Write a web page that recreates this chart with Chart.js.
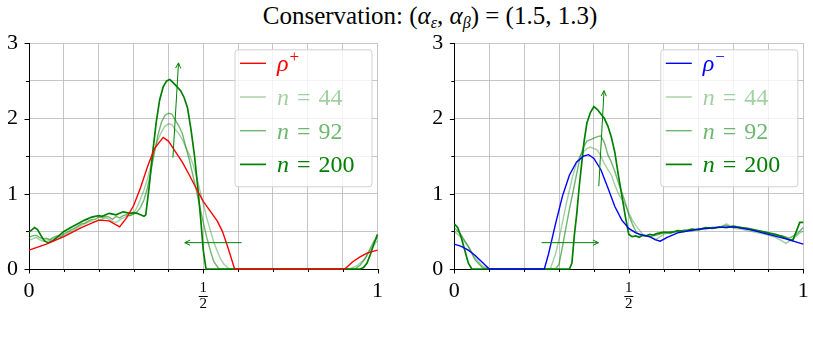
<!DOCTYPE html>
<html>
<head>
<meta charset="utf-8">
<script src="https://cdn.jsdelivr.net/npm/chart.js@4.4.1/dist/chart.umd.min.js"></script>
<style>
  body { margin: 0; background: #fff; }
  #page { position: relative; width: 813px; height: 347px; overflow: hidden; font-family: "Liberation Serif", serif; }
  #title { position: absolute; top: 2px; left: 0; width: 860px; text-align: center; font-size: 25px; color: #000; white-space: nowrap; }
  #title sub { font-size: 16px; vertical-align: -4px; }
  .panel { position: absolute; top: 0; height: 347px; }
  #leftBox { left: 0; width: 410px; }
  #rightBox { left: 410px; width: 403px; }
</style>
</head>
<body>
<div id="page">
  <div id="title">Conservation: (<i>α</i><sub><i>ε</i></sub>, <i>α</i><sub><i>β</i></sub>) = (1.5, 1.3)</div>
  <div class="panel" id="leftBox"><canvas id="leftChart"></canvas></div>
  <div class="panel" id="rightBox"><canvas id="rightChart"></canvas></div>
</div>
<script>
/****************
--- DATA ---
*****************/

// left panel: rho+ and the particle densities
const rhoPlusX = [0, 0.05, 0.1, 0.15, 0.2, 0.23, 0.26, 0.28, 0.3, 0.32, 0.34, 0.36, 0.385, 0.4, 0.42, 0.44, 0.46, 0.48, 0.5, 0.52, 0.54, 0.555, 0.567, 0.58, 0.59, 0.906, 0.93, 0.95, 0.97, 1];
const rhoPlusY = [0.25, 0.33, 0.43, 0.55, 0.65, 0.64, 0.56, 0.68, 0.84, 1.08, 1.36, 1.6, 1.75, 1.7, 1.56, 1.42, 1.25, 1.07, 0.9, 0.77, 0.64, 0.5, 0.34, 0.15, 0, 0, 0.1, 0.16, 0.21, 0.25];

const leftN44X = [0, 0.01, 0.02, 0.03, 0.04, 0.05, 0.06, 0.07, 0.08, 0.09, 0.1, 0.11, 0.12, 0.13, 0.14, 0.15, 0.16, 0.17, 0.18, 0.19, 0.2, 0.21, 0.22, 0.23, 0.24, 0.25, 0.26, 0.27, 0.28, 0.29, 0.3, 0.31, 0.32, 0.33, 0.34, 0.35, 0.36, 0.37, 0.38, 0.39, 0.4, 0.41, 0.42, 0.43, 0.44, 0.45, 0.46, 0.47, 0.48, 0.49, 0.5, 0.51, 0.52, 0.53, 0.54, 0.55, 0.56, 0.575, 0.92, 0.94, 0.96, 0.98, 1];
const leftN44Y = [0.38, 0.4, 0.42, 0.39, 0.37, 0.39, 0.38, 0.4, 0.42, 0.41, 0.45, 0.47, 0.5, 0.52, 0.55, 0.58, 0.6, 0.62, 0.64, 0.63, 0.65, 0.66, 0.68, 0.66, 0.63, 0.62, 0.65, 0.68, 0.7, 0.71, 0.74, 0.82, 0.93, 1.05, 1.2, 1.38, 1.58, 1.72, 1.82, 1.9, 1.93, 1.92, 1.85, 1.8, 1.72, 1.62, 1.52, 1.4, 1.25, 1.05, 0.87, 0.68, 0.52, 0.36, 0.24, 0.13, 0.06, 0, 0, 0.04, 0.12, 0.25, 0.38];

const leftN92X = [0, 0.01, 0.02, 0.03, 0.04, 0.05, 0.06, 0.07, 0.08, 0.09, 0.1, 0.11, 0.12, 0.13, 0.14, 0.15, 0.16, 0.17, 0.18, 0.19, 0.2, 0.21, 0.22, 0.23, 0.24, 0.25, 0.26, 0.27, 0.28, 0.29, 0.3, 0.31, 0.32, 0.33, 0.34, 0.35, 0.36, 0.37, 0.38, 0.39, 0.4, 0.41, 0.42, 0.43, 0.44, 0.45, 0.46, 0.47, 0.48, 0.49, 0.5, 0.51, 0.52, 0.53, 0.545, 0.935, 0.95, 0.965, 0.98, 0.99, 1];
const leftN92Y = [0.42, 0.44, 0.45, 0.42, 0.4, 0.41, 0.39, 0.42, 0.44, 0.43, 0.47, 0.49, 0.52, 0.54, 0.57, 0.6, 0.61, 0.64, 0.66, 0.66, 0.69, 0.68, 0.7, 0.69, 0.66, 0.7, 0.68, 0.71, 0.72, 0.71, 0.73, 0.76, 0.82, 0.92, 1.08, 1.3, 1.55, 1.78, 1.95, 2.04, 2.07, 2.06, 1.98, 1.9, 1.8, 1.62, 1.45, 1.25, 1.05, 0.83, 0.62, 0.42, 0.25, 0.1, 0, 0, 0.05, 0.14, 0.28, 0.37, 0.42];

const leftN200X = [0, 0.008, 0.016, 0.025, 0.035, 0.045, 0.055, 0.07, 0.085, 0.1, 0.12, 0.14, 0.16, 0.18, 0.2, 0.21, 0.22, 0.23, 0.24, 0.25, 0.26, 0.27, 0.28, 0.29, 0.3, 0.31, 0.32, 0.33, 0.335, 0.345, 0.355, 0.365, 0.375, 0.385, 0.395, 0.404, 0.415, 0.425, 0.435, 0.445, 0.455, 0.465, 0.475, 0.485, 0.493, 0.5, 0.508, 0.95, 0.96, 0.97, 0.98, 0.99, 1];
const leftN200Y = [0.49, 0.52, 0.55, 0.52, 0.44, 0.37, 0.35, 0.38, 0.44, 0.5, 0.55, 0.6, 0.65, 0.69, 0.71, 0.7, 0.72, 0.74, 0.73, 0.72, 0.74, 0.76, 0.75, 0.74, 0.75, 0.74, 0.72, 0.7, 0.72, 1.1, 1.55, 1.95, 2.25, 2.42, 2.5, 2.52, 2.47, 2.42, 2.37, 2.28, 2.14, 1.85, 1.5, 1.05, 0.65, 0.25, 0, 0, 0.02, 0.08, 0.2, 0.34, 0.46];

// right panel: rho- and the particle densities
const rhoMinusX = [0, 0.02, 0.04, 0.06, 0.08, 0.1, 0.258, 0.27, 0.29, 0.31, 0.33, 0.35, 0.37, 0.385, 0.4, 0.42, 0.44, 0.46, 0.48, 0.5, 0.52, 0.54, 0.56, 0.575, 0.59, 0.61, 0.64, 0.7, 0.75, 0.8, 0.85, 0.9, 0.95, 1];
const rhoMinusY = [0.33, 0.3, 0.25, 0.18, 0.09, 0, 0, 0.2, 0.6, 0.97, 1.25, 1.42, 1.5, 1.52, 1.47, 1.32, 1.08, 0.83, 0.65, 0.54, 0.48, 0.45, 0.43, 0.39, 0.37, 0.42, 0.48, 0.53, 0.55, 0.56, 0.52, 0.46, 0.4, 0.33];

const rightN44X = [0, 0.02, 0.04, 0.06, 0.08, 0.1, 0.275, 0.29, 0.3, 0.31, 0.32, 0.33, 0.34, 0.35, 0.36, 0.37, 0.38, 0.39, 0.4, 0.41, 0.42, 0.43, 0.44, 0.45, 0.46, 0.47, 0.48, 0.49, 0.5, 0.51, 0.52, 0.53, 0.54, 0.56, 0.58, 0.6, 0.62, 0.64, 0.66, 0.68, 0.7, 0.72, 0.74, 0.76, 0.78, 0.8, 0.82, 0.84, 0.86, 0.88, 0.9, 0.92, 0.94, 0.95, 0.97, 0.99, 1];
const rightN44Y = [0.5, 0.42, 0.3, 0.15, 0.04, 0, 0, 0.2, 0.4, 0.62, 0.85, 1.05, 1.25, 1.4, 1.5, 1.56, 1.6, 1.62, 1.6, 1.58, 1.5, 1.4, 1.32, 1.25, 1.12, 1.0, 0.93, 0.85, 0.75, 0.65, 0.58, 0.52, 0.46, 0.42, 0.4, 0.46, 0.49, 0.5, 0.52, 0.5, 0.54, 0.52, 0.56, 0.55, 0.6, 0.54, 0.53, 0.51, 0.49, 0.47, 0.45, 0.42, 0.37, 0.34, 0.4, 0.48, 0.5];

const rightN92X = [0, 0.02, 0.04, 0.06, 0.08, 0.09, 0.29, 0.3, 0.31, 0.32, 0.33, 0.34, 0.35, 0.36, 0.37, 0.38, 0.39, 0.4, 0.41, 0.42, 0.43, 0.44, 0.45, 0.46, 0.47, 0.48, 0.49, 0.5, 0.51, 0.52, 0.53, 0.54, 0.56, 0.58, 0.6, 0.62, 0.64, 0.66, 0.68, 0.7, 0.72, 0.74, 0.76, 0.78, 0.8, 0.82, 0.84, 0.86, 0.88, 0.9, 0.92, 0.94, 0.96, 0.98, 1];
const rightN92Y = [0.55, 0.45, 0.3, 0.12, 0.02, 0, 0, 0.06, 0.3, 0.55, 0.8, 1.02, 1.25, 1.48, 1.62, 1.7, 1.72, 1.74, 1.76, 1.77, 1.68, 1.52, 1.42, 1.3, 1.15, 1.02, 0.88, 0.72, 0.6, 0.5, 0.45, 0.44, 0.43, 0.45, 0.48, 0.5, 0.49, 0.52, 0.51, 0.53, 0.55, 0.54, 0.56, 0.58, 0.55, 0.56, 0.53, 0.51, 0.5, 0.47, 0.45, 0.44, 0.41, 0.46, 0.55];

const rightN200X = [0, 0.01, 0.02, 0.03, 0.04, 0.05, 0.33, 0.337, 0.344, 0.351, 0.358, 0.365, 0.372, 0.38, 0.39, 0.4, 0.41, 0.42, 0.43, 0.44, 0.45, 0.46, 0.47, 0.48, 0.49, 0.5, 0.51, 0.52, 0.53, 0.54, 0.55, 0.56, 0.57, 0.58, 0.6, 0.62, 0.64, 0.66, 0.68, 0.7, 0.72, 0.74, 0.76, 0.78, 0.8, 0.82, 0.84, 0.86, 0.88, 0.9, 0.92, 0.94, 0.96, 0.97, 0.98, 0.99, 1];
const rightN200Y = [0.6, 0.55, 0.42, 0.25, 0.08, 0, 0, 0.08, 0.45, 0.74, 1.1, 1.4, 1.7, 1.94, 2.08, 2.16, 2.12, 2.06, 2.0, 1.9, 1.75, 1.55, 1.25, 0.98, 0.7, 0.46, 0.43, 0.44, 0.42, 0.45, 0.44, 0.46, 0.45, 0.47, 0.49, 0.48, 0.51, 0.5, 0.53, 0.52, 0.55, 0.54, 0.56, 0.55, 0.57, 0.55, 0.54, 0.52, 0.5, 0.48, 0.46, 0.43, 0.39, 0.38, 0.5, 0.62, 0.62];

// arrows [x1, y1, x2, y2] in data units
const leftArrows = [[0.413, 1.48, 0.429, 2.74], [0.61, 0.35, 0.447, 0.35]];
const rightArrows = [[0.414, 1.1, 0.429, 2.37], [0.25, 0.35, 0.413, 0.35]];

// tick labels
const yTickLabels = [0, 1, 2, 3];
const xTickLabels = ["0", "1/2", "1"];
const xTickValues = [0, 0.5, 1];

/*******************
  --- FUNCTIONS ---
********************/

const GREEN = "0, 128, 0";
const SERIF = '"Liberation Serif", serif';

const toPoints = (xs, ys) => xs.map((x, i) => ({ x: x, y: ys[i] }));

const line = (label, xs, ys, color, width) => ({
  label: label,
  data: toPoints(xs, ys),
  borderColor: color,
  borderWidth: width,
  pointRadius: 0,
  tension: 0,
  clip: 6,
});

const drawArrow = (ctx, x1, y1, x2, y2) => {
  const a = Math.atan2(y2 - y1, x2 - x1);
  const h = 6;
  ctx.beginPath();
  ctx.moveTo(x1, y1);
  ctx.lineTo(x2, y2);
  ctx.moveTo(x2 - h * Math.cos(a - 0.45), y2 - h * Math.sin(a - 0.45));
  ctx.lineTo(x2, y2);
  ctx.lineTo(x2 - h * Math.cos(a + 0.45), y2 - h * Math.sin(a + 0.45));
  ctx.stroke();
};

// legend label: italic first letter, then superscript sign or plain text
const drawLabel = (ctx, label, x, y, color) => {
  ctx.fillStyle = color;
  ctx.textBaseline = "alphabetic";
  ctx.textAlign = "left";
  ctx.font = "italic 24px " + SERIF;
  ctx.fillText(label[0], x, y);
  let cx = x + ctx.measureText(label[0]).width;
  const rest = label.slice(1);
  if (rest == "+" || rest == "−") {
    ctx.font = "17px " + SERIF;
    ctx.fillText(rest, cx + 1, y - 9);
  } else {
    const parts = rest.trim().split(" ");
    ctx.font = "24px " + SERIF;
    cx += 8;
    ctx.fillText(parts[0], cx, y);
    cx += ctx.measureText(parts[0]).width + 8;
    ctx.fillText(parts[1], cx, y);
  }
};

const decorPlugin = {
  id: "decor",
  afterDraw(chart, args, opts) {
    const ctx = chart.ctx;
    const area = chart.chartArea;
    const xs = chart.scales.x;
    const ys = chart.scales.y;
    ctx.save();

    // tick marks
    ctx.strokeStyle = "#000";
    ctx.lineWidth = 1;
    ctx.beginPath();
    for (let v = 0; v <= 10; v++) {
      const px = Math.round(xs.getPixelForValue(v / 10)) + 0.5;
      const len = v % 5 == 0 ? 4.5 : 3;
      ctx.moveTo(px, area.bottom);
      ctx.lineTo(px, area.bottom + len);
    }
    for (let v = 0; v <= 6; v++) {
      const py = Math.round(ys.getPixelForValue(v / 2)) + 0.5;
      const len = v % 2 == 0 ? 4.5 : 3;
      ctx.moveTo(area.left, py);
      ctx.lineTo(area.left - len, py);
    }
    ctx.stroke();

    // x tick labels, with 1/2 as a stacked fraction
    ctx.fillStyle = "#000";
    ctx.textAlign = "center";
    ctx.textBaseline = "alphabetic";
    xTickLabels.forEach((t, i) => {
      const px = xs.getPixelForValue(xTickValues[i]);
      if (t.includes("/")) {
        const [num, den] = t.split("/");
        ctx.font = "15px " + SERIF;
        ctx.fillText(num, px, area.bottom + 23);
        ctx.fillText(den, px, area.bottom + 39);
        ctx.fillRect(px - 4.5, area.bottom + 27, 9, 1);
      } else {
        ctx.font = "22px " + SERIF;
        ctx.fillText(t, px, area.bottom + 28);
      }
    });

    // arrows
    ctx.strokeStyle = "rgb(" + GREEN + ")";
    ctx.lineWidth = 1;
    opts.arrows.forEach((a) => {
      drawArrow(ctx, xs.getPixelForValue(a[0]), ys.getPixelForValue(a[1]), xs.getPixelForValue(a[2]), ys.getPixelForValue(a[3]));
    });

    // legend box
    const bw = 137, bh = 137;
    const bx = area.right - 5.5 - bw;
    const by = area.top + 6.5;
    ctx.fillStyle = "rgba(255,255,255,0.8)";
    ctx.strokeStyle = "#d0d0d0";
    ctx.beginPath();
    ctx.roundRect(bx, by, bw, bh, 3);
    ctx.fill();
    ctx.stroke();
    chart.data.datasets.forEach((d, i) => {
      const ry = by + 13.5 + i * 33.7;
      ctx.strokeStyle = d.borderColor;
      ctx.lineWidth = d.borderWidth;
      ctx.beginPath();
      ctx.moveTo(bx + 5, ry);
      ctx.lineTo(bx + 31, ry);
      ctx.stroke();
      drawLabel(ctx, d.label, bx + 42, ry + 8, d.borderColor);
    });
    ctx.restore();
  },
};

const makeChart = (id, datasets, padding, arrows) =>
  new Chart(document.getElementById(id).getContext("2d"), {
    type: "line",
    data: { datasets: datasets },
    plugins: [decorPlugin],
    options: {
      responsive: true,
      maintainAspectRatio: false,
      animation: false,
      layout: { padding: padding },
      plugins: { legend: { display: false }, tooltip: { enabled: false }, decor: { arrows: arrows } },
      scales: {
        x: {
          type: "linear",
          min: 0,
          max: 1,
          ticks: { display: false, stepSize: 0.1 },
          grid: { color: "#b8b8b8", lineWidth: 0.8, drawTicks: false },
          border: { color: "#000", width: 1 },
          afterFit: (s) => { s.height = 30; },
        },
        y: {
          min: 0,
          max: 3,
          ticks: {
            stepSize: 0.5,
            padding: 11,
            color: "#000",
            font: { family: SERIF, size: 22 },
            callback: (v) => (yTickLabels.includes(v) ? v : ""),
          },
          grid: { color: "#b8b8b8", lineWidth: 0.8, drawTicks: false },
          border: { color: "#000", width: 1 },
          afterFit: (s) => { s.width = 29; },
        },
      },
    },
  });

/***********************
--- CHARTS ---
************************/

makeChart(
  "leftChart",
  [
    line("ρ+", rhoPlusX, rhoPlusY, "rgb(255, 0, 0)", 1.4),
    line("n = 44", leftN44X, leftN44Y, "rgba(" + GREEN + ", 0.37)", 1.4),
    line("n = 92", leftN92X, leftN92Y, "rgba(" + GREEN + ", 0.57)", 1.4),
    line("n = 200", leftN200X, leftN200Y, "rgb(" + GREEN + ")", 1.7),
  ],
  { left: 0, right: 32.5, top: 43.3, bottom: 48 },
  leftArrows
);

makeChart(
  "rightChart",
  [
    line("ρ−", rhoMinusX, rhoMinusY, "rgb(0, 0, 255)", 1.4),
    line("n = 44", rightN44X, rightN44Y, "rgba(" + GREEN + ", 0.37)", 1.4),
    line("n = 92", rightN92X, rightN92Y, "rgba(" + GREEN + ", 0.57)", 1.4),
    line("n = 200", rightN200X, rightN200Y, "rgb(" + GREEN + ")", 1.7),
  ],
  { left: 15.3, right: 9.7, top: 43.3, bottom: 48 },
  rightArrows
);
</script>
</body>
</html>
